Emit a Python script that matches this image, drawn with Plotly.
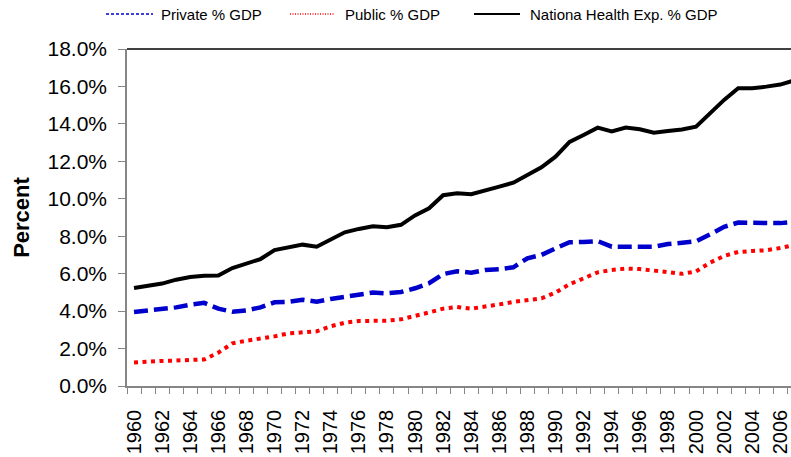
import plotly.graph_objects as go

years = list(range(1960, 2008))

private_gdp = [3.95, 4.03, 4.07, 4.20, 4.34, 4.44, 4.13, 3.97, 4.04, 4.20,
               4.47, 4.50, 4.61, 4.50, 4.65, 4.77, 4.88, 4.99, 4.95, 5.02,
               5.22, 5.49, 5.98, 6.13, 6.05, 6.20, 6.24, 6.34, 6.82, 7.00,
               7.35, 7.68, 7.69, 7.74, 7.44, 7.44, 7.44, 7.44, 7.58, 7.65,
               7.73, 8.10, 8.50, 8.73, 8.73, 8.71, 8.70, 8.77]

public_gdp = [1.25, 1.32, 1.34, 1.36, 1.40, 1.42, 1.78, 2.28, 2.42, 2.51,
              2.65, 2.81, 2.88, 2.92, 3.19, 3.38, 3.47, 3.47, 3.49, 3.56,
              3.77, 3.93, 4.13, 4.22, 4.13, 4.22, 4.36, 4.49, 4.56, 4.68,
              4.99, 5.44, 5.75, 6.07, 6.20, 6.27, 6.25, 6.16, 6.07, 5.99,
              6.12, 6.59, 6.95, 7.16, 7.21, 7.25, 7.37, 7.53]

national_gdp = [5.24, 5.38, 5.47, 5.68, 5.82, 5.89, 5.90, 6.30, 6.52, 6.78,
                7.26, 7.41, 7.55, 7.44, 7.85, 8.21, 8.39, 8.53, 8.48, 8.61,
                9.11, 9.49, 10.19, 10.29, 10.24, 10.47, 10.65, 10.86, 11.27, 11.68,
                12.25, 13.04, 13.41, 13.80, 13.60, 13.80, 13.71, 13.53, 13.62, 13.70,
                13.85, 14.56, 15.28, 15.90, 15.90, 15.99, 16.10, 16.33]

series_names = ["Private % GDP", "Public % GDP", "Nationa Health Exp. % GDP"]

BLUE = "#0000CC"
RED = "#FF0000"
BLACK = "#000000"
GRAY = "#868686"
FONT = "Liberation Sans, Arial, sans-serif"

W, H = 791, 457
ML, MR, MT, MB = 127, 0, 49, 71
PW, PH = W - ML - MR, H - MT - MB


def px_x(px):
    return (px - ML) / PW


def px_y(py):
    return (H - MB - py) / PH


fig = go.Figure()

fig.add_trace(go.Scatter(x=years, y=private_gdp, mode="lines", name=series_names[0],
                         showlegend=False,
                         line=dict(color=BLUE, width=4.5, dash="14px,6px")))
fig.add_trace(go.Scatter(x=years, y=public_gdp, mode="lines", name=series_names[1],
                         showlegend=False,
                         line=dict(color=RED, width=4, dash="4px,4.5px")))
fig.add_trace(go.Scatter(x=years, y=national_gdp, mode="lines", name=series_names[2],
                         showlegend=False,
                         line=dict(color=BLACK, width=4)))

# top border of plot area
fig.add_shape(type="line", xref="paper", yref="paper", x0=0, x1=1, y0=1, y1=1,
              line=dict(color="#000000", width=1.3))

# manual legend (long thin symbols like the reference)
legend_items = [
    (series_names[0], BLUE, "3px,2px", 1.5, 106, 153, 159),
    (series_names[1], RED, "1px,1.5px", 1.5, 290, 335, 343),
    (series_names[2], BLACK, "solid", 2, 474, 520, 528),
]
ly = px_y(14)
for name, col, dash, lw, s0, s1, tx in legend_items:
    fig.add_shape(type="line", xref="paper", yref="paper",
                  x0=px_x(s0), x1=px_x(s1), y0=ly, y1=ly,
                  line=dict(color=col, width=lw, dash=dash))
    fig.add_annotation(xref="paper", yref="paper", x=px_x(tx), y=ly,
                       xanchor="left", yanchor="middle", showarrow=False,
                       text=name, font=dict(family=FONT, size=15, color="black"))

fig.update_layout(
    width=W, height=H,
    margin=dict(l=ML, r=MR, t=MT, b=MB),
    paper_bgcolor="white", plot_bgcolor="white",
    font=dict(family=FONT, color="black"),
    showlegend=False,
    xaxis=dict(
        range=[1959.5, 2006.76],
        tickmode="linear", tick0=1960, dtick=2,
        tickangle=-90, ticks="",
        tickfont=dict(size=20, family=FONT, color="black"),
        showline=True, linecolor=GRAY, linewidth=1.5,
        showgrid=False, zeroline=False, automargin=False,
        ticklabeloverflow="allow",
        minor=dict(tickmode="linear", tick0=1959.5, dtick=1, ticks="outside",
                   ticklen=6, tickcolor=GRAY, tickwidth=1, showgrid=False),
        ticklabelstandoff=14,
    ),
    yaxis=dict(
        range=[0, 18], tickmode="linear", tick0=0, dtick=2,
        tickformat=".1f", ticksuffix="%",
        ticks="outside", ticklen=7, tickcolor=GRAY, tickwidth=1,
        tickfont=dict(size=21, family=FONT, color="black"),
        showline=True, linecolor=GRAY, linewidth=1.5,
        showgrid=False, zeroline=False, automargin=False,
        title=dict(text="<b>Percent</b>", font=dict(size=22, family=FONT, color="black"),
                   standoff=12),
        ticklabelstandoff=7,
    ),
)

fig.write_html("out.html",
               config={"displayModeBar": False},
               post_script="document.body.style.margin='0';document.body.style.overflow='hidden';")
